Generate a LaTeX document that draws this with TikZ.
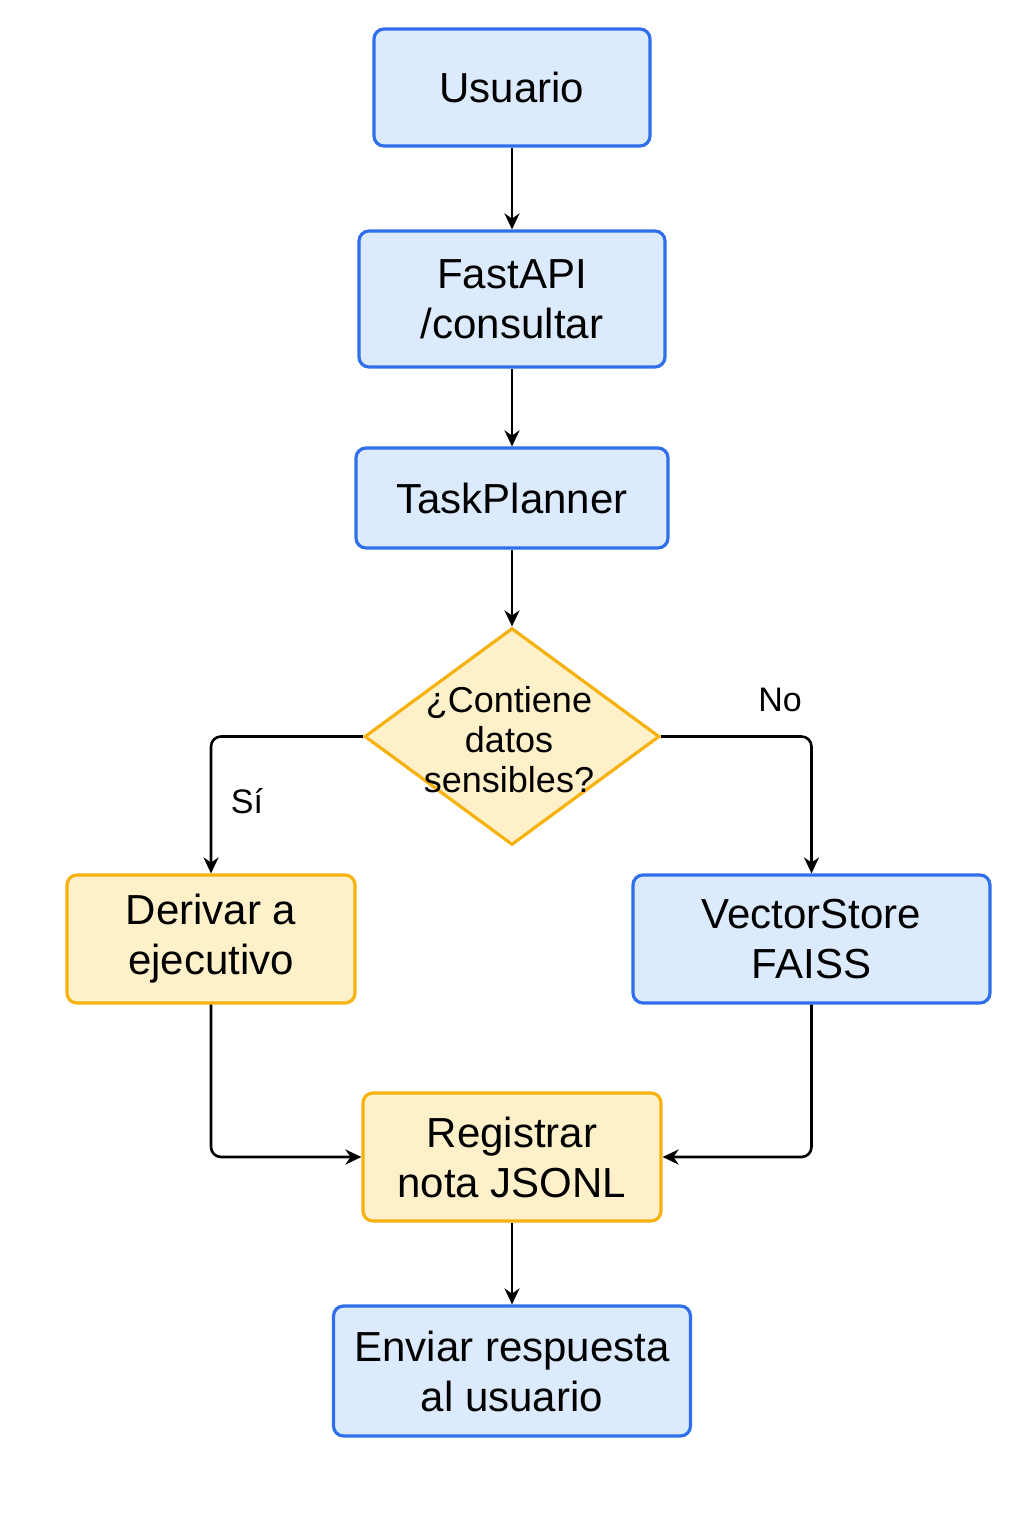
\documentclass[tikz,border=0pt]{standalone}
\usepackage{fontspec}
\setmainfont{Liberation Sans}
\usetikzlibrary{shapes.geometric,arrows.meta}
\definecolor{azulfondo}{HTML}{DCEAFD}
\definecolor{azulborde}{HTML}{2F6FEB}
\definecolor{amarillofondo}{HTML}{FEF0C9}
\definecolor{amarilloborde}{HTML}{F6B20E}

\begin{document}
\begin{tikzpicture}[x=0.5pt,y=-0.5pt,
  caja/.style={draw=azulborde,fill=azulfondo,line width=1.6pt,rounded corners=5pt,
    align=center,inner sep=0pt,font=\fontsize{21}{25}\selectfont},
  cajaamarilla/.style={caja,draw=amarilloborde,fill=amarillofondo},
  flecha/.style={line width=1.3pt,-{Stealth[length=8pt,width=7.5pt]},rounded corners=5pt},
  etiqueta/.style={font=\fontsize{17}{20}\selectfont}]
\useasboundingbox (0,0) rectangle (1024,1536);
\node[caja,minimum width=138pt,minimum height=58.5pt] (usuario) at (512,87.5) {Usuario};
\node[caja,minimum width=153pt,minimum height=68pt] (fastapi) at (512,299) {FastAPI\\/consultar};
\node[caja,minimum width=156pt,minimum height=50pt] (planner) at (512,498) {TaskPlanner};
\node[diamond,draw=amarilloborde,fill=amarillofondo,line width=1.6pt,inner sep=0pt,
  minimum width=147.5pt,minimum height=108.5pt] (sensible) at (512,736.5) {};
\node[align=center,font=\fontsize{18}{20}\selectfont] (pregunta) at (509,740) {¿Contiene\\datos\\sensibles?};
\node[cajaamarilla,minimum width=144pt,minimum height=64pt] (derivar) at (211,939) {Derivar a\\ejecutivo};
\node[caja,minimum width=178.5pt,minimum height=64pt] (vector) at (811.5,939) {VectorStore\\FAISS};
\node[cajaamarilla,minimum width=149pt,minimum height=64pt] (registrar) at (512,1157) {Registrar\\nota JSONL};
\node[caja,minimum width=178.5pt,minimum height=65pt] (enviar) at (512,1371) {Enviar respuesta\\al usuario};
\node[etiqueta] (no) at (780,700) {No};
\node[etiqueta] (si) at (247,801) {Sí};
\draw[flecha] (usuario) -- (fastapi);
\draw[flecha] (fastapi) -- (planner);
\draw[flecha] (planner) -- (sensible);
\draw[flecha] (sensible.west) -| (derivar.north);
\draw[flecha] (sensible.east) -| (vector.north);
\draw[flecha] (derivar.south) |- (registrar.west);
\draw[flecha] (vector.south) |- (registrar.east);
\draw[flecha] (registrar) -- (enviar);
\end{tikzpicture}
\end{document}
